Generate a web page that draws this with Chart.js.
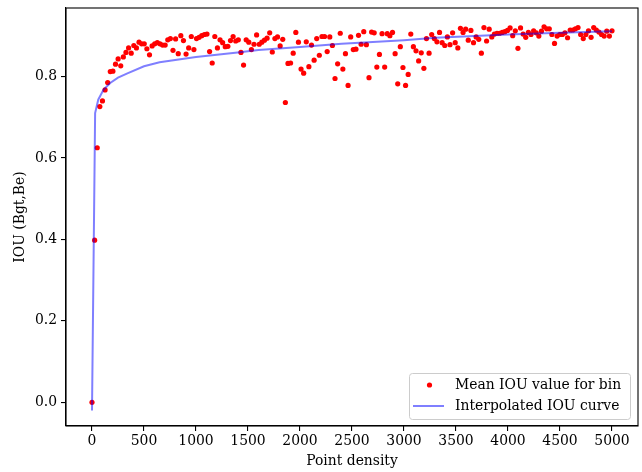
<!DOCTYPE html>
<html>
<head>
<meta charset="utf-8">
<script src="https://cdn.jsdelivr.net/npm/chart.js@4/dist/chart.umd.min.js"></script>
<style>
  html,body{margin:0;padding:0;background:#fff;}
  #wrap{width:642px;height:472px;position:relative;}
</style>
</head>
<body>
<div id="wrap"><canvas id="c"></canvas></div>
<script>
'use strict';

// ── data ─────────────────────────────────────────────────────────────
// mean IOU per density bin (bins run 0 .. 5000)
const binMax = 5000;
const meanIou = [
  0.0,   0.398, 0.625, 0.726, 0.74,  0.767, 0.785, 0.812, 0.813, 0.83,  0.843, 0.826, 0.848, 0.859, 0.87,  0.857, 0.876, 0.87,  0.884, 0.88,
  0.88,  0.868, 0.853, 0.875, 0.88,  0.883, 0.88,  0.877, 0.877, 0.89,  0.893, 0.864, 0.892, 0.856, 0.9,   0.888, 0.855, 0.87,  0.898, 0.866,
  0.893, 0.896, 0.9,   0.903, 0.904, 0.861, 0.833, 0.898, 0.87,  0.89,  0.883, 0.873, 0.874, 0.888, 0.898, 0.887, 0.89,  0.859, 0.828, 0.89,
  0.884, 0.866, 0.879, 0.902, 0.879, 0.884, 0.889, 0.894, 0.907, 0.86,  0.893, 0.897, 0.875, 0.891, 0.736, 0.832, 0.833, 0.857, 0.908, 0.884,
  0.818, 0.808, 0.885, 0.824, 0.877, 0.84,  0.893, 0.852, 0.898, 0.898, 0.861, 0.897, 0.876, 0.795, 0.831, 0.906, 0.818, 0.856, 0.778, 0.897,
  0.866, 0.867, 0.901, 0.879, 0.91,  0.878, 0.797, 0.909, 0.907, 0.823, 0.854, 0.905, 0.823, 0.905, 0.9,   0.908, 0.856, 0.782, 0.873, 0.822,
  0.778, 0.805, 0.904, 0.873, 0.863, 0.838, 0.858, 0.82,  0.893, 0.857, 0.903, 0.893, 0.885, 0.908, 0.883, 0.876, 0.897, 0.878, 0.907, 0.883,
  0.87,  0.918, 0.908, 0.916, 0.889, 0.913, 0.883, 0.897, 0.891, 0.857, 0.92,  0.887, 0.916, 0.897, 0.904, 0.906, 0.906, 0.908, 0.91,  0.913,
  0.919, 0.9,   0.912, 0.869, 0.919, 0.904, 0.896, 0.908, 0.903, 0.912, 0.907, 0.899, 0.911, 0.922, 0.917, 0.917, 0.903, 0.881, 0.899, 0.903,
  0.903, 0.907, 0.895, 0.914, 0.914, 0.917, 0.92,  0.903, 0.893, 0.903, 0.912, 0.896, 0.92,  0.914, 0.909, 0.903, 0.899, 0.911, 0.899, 0.912
];

// interpolated curve
const curveX = [0, 30, 60, 110, 175, 250, 335, 500, 650, 1000, 1400, 1600, 2000, 2400, 3000, 3300, 4000, 4500, 5000];
const curveY = [-0.02, 0.71, 0.743, 0.767, 0.784, 0.797, 0.807, 0.825, 0.835, 0.848, 0.859, 0.865, 0.872, 0.88, 0.889, 0.895, 0.903, 0.907, 0.911];

const xTicks = [0, 500, 1000, 1500, 2000, 2500, 3000, 3500, 4000, 4500, 5000];
const yTicks = [0.0, 0.2, 0.4, 0.6, 0.8];
const labels = ['Mean IOU value for bin', 'Interpolated IOU curve'];

// ── chart ────────────────────────────────────────────────────────────
const font = {family: "'DejaVu Serif', serif", size: 13.9};
const RED = '#ff0000', BLUE = 'rgba(0,0,255,0.5)';

const step = binMax / (meanIou.length - 1);
const pts = meanIou.map((v, i) => ({x: i * step, y: v}));
const curve = curveX.map((x, i) => ({x, y: curveY[i]}));

// spines on top/right + legend box in the lower right of the plot
const frame = {
  id: 'frame',
  afterDraw(chart){
    const {ctx, chartArea: a} = chart;
    ctx.save();
    ctx.strokeStyle = '#000'; ctx.lineWidth = 1.1;
    ctx.strokeRect(a.left, a.top, a.right - a.left, a.bottom - a.top);

    const w = 221, h = 46;
    const bx = a.right - 8 - w, by = a.bottom - 7 - h;
    ctx.beginPath();
    ctx.roundRect(bx + 0.5, by + 0.5, w, h, 3);
    ctx.fillStyle = 'rgba(255,255,255,0.8)'; ctx.fill();
    ctx.strokeStyle = '#cccccc'; ctx.lineWidth = 1; ctx.stroke();

    ctx.fillStyle = RED;
    ctx.beginPath(); ctx.arc(bx + 20.5, by + 12, 2.6, 0, Math.PI * 2); ctx.fill();
    ctx.strokeStyle = BLUE; ctx.lineWidth = 2;
    ctx.beginPath(); ctx.moveTo(bx + 4, by + 33); ctx.lineTo(bx + 35, by + 33); ctx.stroke();

    ctx.fillStyle = '#000';
    ctx.font = `${font.size}px ${font.family}`;
    ctx.textBaseline = 'middle';
    ctx.fillText(labels[0], bx + 46, by + 12);
    ctx.fillText(labels[1], bx + 46, by + 33);
    ctx.restore();
  }
};

new Chart(document.getElementById('c'), {
  type: 'scatter',
  data: {datasets: [
    {label: labels[1], data: curve, showLine: true, borderColor: BLUE, borderWidth: 2, pointRadius: 0, tension: 0, order: 0},
    {label: labels[0], data: pts, backgroundColor: RED, borderWidth: 0, pointRadius: 2.6, order: 1}
  ]},
  options: {
    responsive: true, maintainAspectRatio: false, animation: false,
    layout: {padding: {top: 8, right: 1, left: 0, bottom: 0}},
    plugins: {legend: {display: false}, tooltip: {enabled: false}},
    scales: {
      x: {
        type: 'linear', min: -250, max: 5250,
        afterBuildTicks: s => { s.ticks = xTicks.map(v => ({value: v})); },
        afterFit: s => { s.height = 46; s.paddingLeft = 0; s.paddingRight = 0; },
        grid: {drawOnChartArea: false, drawTicks: true, tickLength: 5, color: '#000', lineWidth: 1.1},
        border: {display: true, color: '#000', width: 1.1},
        ticks: {color: '#000', font, padding: 2, maxRotation: 0, callback: v => String(v)},
        title: {display: true, text: 'Point density', color: '#000', font, padding: {top: 0, bottom: 2}}
      },
      y: {
        type: 'linear', min: -0.058, max: 0.968,
        afterBuildTicks: s => { s.ticks = yTicks.map(v => ({value: v})); },
        afterFit: s => { s.width = 66; s.paddingTop = 0; s.paddingBottom = 0; },
        grid: {drawOnChartArea: false, drawTicks: true, tickLength: 5, color: '#000', lineWidth: 1.1},
        border: {display: true, color: '#000', width: 1.1},
        ticks: {color: '#000', font, padding: 4, callback: v => v.toFixed(1)},
        title: {display: true, text: 'IOU (Bgt,Be)', color: '#000', font, padding: {top: 12, bottom: 0}}
      }
    }
  },
  plugins: [frame]
});
</script>
</body>
</html>
